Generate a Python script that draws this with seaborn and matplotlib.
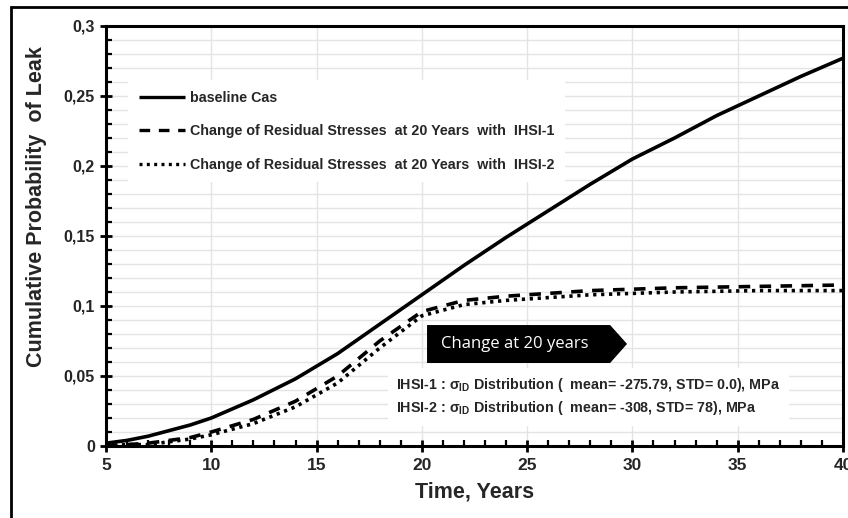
import numpy as np
import pandas as pd
import matplotlib
matplotlib.use("Agg")
import matplotlib.pyplot as plt
import seaborn as sns
from matplotlib.patches import Polygon, Rectangle
from matplotlib.ticker import MultipleLocator, FuncFormatter

# data
years = [5, 6, 7, 8, 9, 10, 12, 14, 16, 18, 20, 22, 24, 26, 28, 30, 32, 34, 36, 38, 40]
baseline = [0.002, 0.004, 0.007, 0.011, 0.015, 0.020, 0.033, 0.048, 0.066, 0.087, 0.108,
            0.129, 0.149, 0.168, 0.187, 0.205, 0.220, 0.236, 0.250, 0.264, 0.277]
ihsi1 = [0.000, 0.001, 0.002, 0.004, 0.006, 0.010, 0.019, 0.032, 0.050, 0.075, 0.096,
         0.104, 0.107, 0.109, 0.111, 0.112, 0.113, 0.1135, 0.114, 0.1145, 0.115]
ihsi2 = [0.000, 0.001, 0.001, 0.003, 0.005, 0.008, 0.016, 0.028, 0.045, 0.070, 0.093,
         0.101, 0.104, 0.106, 0.108, 0.109, 0.110, 0.1105, 0.111, 0.111, 0.111]
series_names = ["baseline Cas",
                "Change of Residual Stresses  at 20 Years  with  IHSI-1",
                "Change of Residual Stresses  at 20 Years  with  IHSI-2"]

df = pd.DataFrame({"year": years * 3,
                   "prob": baseline + ihsi1 + ihsi2,
                   "series": [series_names[0]] * len(years) + [series_names[1]] * len(years)
                             + [series_names[2]] * len(years)})

sns.set_style("white")
plt.rcParams['font.family'] = ['Liberation Sans', 'DejaVu Sans']
plt.rcParams['mathtext.fontset'] = 'custom'
plt.rcParams['mathtext.rm'] = 'Liberation Sans:bold'

fig = plt.figure(figsize=(8.48, 5.18), dpi=100)
ax = fig.add_axes([106 / 848, 1 - 446 / 518, 737 / 848, 420 / 518])

sns.lineplot(data=df, x="year", y="prob", hue="series", style="series",
             palette=["black"] * 3, dashes=[(1, 0), (3.2, 2.6), (0.9, 1.3)],
             linewidth=2.6, ax=ax, legend=True)

ax.set_xlim(5, 40)
ax.set_ylim(0, 0.3)
ax.xaxis.set_major_locator(MultipleLocator(5))
ax.xaxis.set_minor_locator(MultipleLocator(1))
ax.yaxis.set_major_locator(MultipleLocator(0.05))
ax.yaxis.set_minor_locator(MultipleLocator(0.01))
ax.yaxis.set_major_formatter(FuncFormatter(lambda v, p: ("%g" % round(v, 2)).replace(".", ",")))

ax.grid(False)
ax.grid(axis="x", which="major", color="#e4e4e4", linewidth=1.0, zorder=0)
ax.grid(axis="y", which="both", color="#e4e4e4", linewidth=1.0, zorder=0)
ax.set_axisbelow(True)

for s in ax.spines.values():
    s.set_color("black")
    s.set_linewidth(2.2)

ax.tick_params(which="major", direction="inout", length=9, width=2, color="black",
               labelsize=11.5, left=True, bottom=True)
ax.tick_params(which="minor", direction="in", length=4, width=1.6, color="black",
               left=True, bottom=True)
for lab in ax.get_xticklabels() + ax.get_yticklabels():
    lab.set_fontweight("bold")
ax.tick_params(axis="x", labelsize=12.5, pad=4)

ax.set_xlabel("Time, Years", fontsize=15.5, fontweight="bold", labelpad=6)
ax.set_ylabel("Cumulative Probability  of Leak", fontsize=15.5, fontweight="bold")
ax.yaxis.set_label_coords(-0.08, 0.571)

leg = ax.legend(loc="upper left", bbox_to_anchor=(0.03, 0.871), frameon=True,
                facecolor="white", edgecolor="none", framealpha=1, fancybox=False,
                prop={"weight": "bold", "size": 10.3}, handlelength=3.2,
                handletextpad=0.35, labelspacing=1.35, borderpad=0.75, borderaxespad=0)
for h in leg.get_lines():
    h.set_linewidth(2.4)

# "Change at 20 years" arrow banner
arrow = Polygon([(0.4356, 0.1976), (0.684, 0.1976), (0.707, 0.243),
                 (0.684, 0.288), (0.4356, 0.288)], closed=True,
                transform=ax.transAxes, facecolor="black", edgecolor="none", zorder=5)
ax.add_patch(arrow)
ax.text(0.555, 0.243, "Change at 20 years", transform=ax.transAxes, color="white",
        fontsize=12, family=["Open Sans", "DejaVu Sans"], ha="center", va="center", zorder=6)

ax.text(0.3935, 0.117,
        "IHSI-1 : σ$_{\\mathrm{ID}}$ Distribution (  mean= -275.79, STD= 0.0), MPa\n"
        "IHSI-2 : σ$_{\\mathrm{ID}}$ Distribution (  mean= -308, STD= 78), MPa",
        transform=ax.transAxes, fontsize=10.3, fontweight="bold", ha="left", va="center",
        linespacing=1.4, zorder=6,
        bbox=dict(facecolor="white", edgecolor="none", pad=6))

# outer frame of the original picture
fig.patches.append(Rectangle((11 / 848, -0.1), 1.2, 1 - 7 / 518 + 0.1,
                             transform=fig.transFigure, fill=False,
                             edgecolor="black", linewidth=2, clip_on=False))

fig.savefig("out.png", dpi=100)
